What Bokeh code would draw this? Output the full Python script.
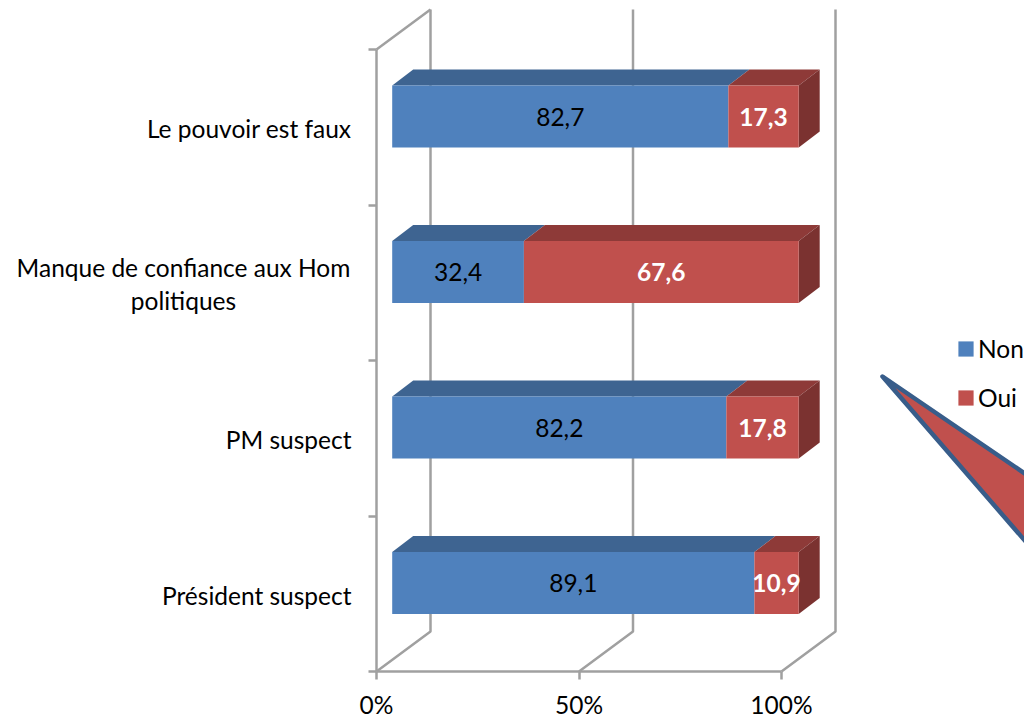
from bokeh.plotting import figure
from bokeh.embed import file_html
from bokeh.resources import INLINE
from bokeh.core.properties import value
from bokeh.models import FixedTicker, Legend, LegendItem

categories = ["Président suspect", "PM suspect", "Manque de confiance aux Hom\npolitiques", "Le pouvoir est faux"]
non = [89.1, 82.2, 32.4, 82.7]
oui = [10.9, 17.8, 67.6, 17.3]
non_labels = ["89,1", "82,2", "32,4", "82,7"]
oui_labels = ["10,9", "17,8", "67,6", "17,3"]
series_names = ["Non", "Oui"]
x_ticks = [0, 50, 100]
x_tick_labels = ["0%", "50%", "100%"]

W, H = 1024, 718
OFF = 0
FONT = "Lato"
FS = "24.5px"
GREY = "#A0A0A0"
LW = 2.5
BLUE, BLUE_TOP = "#4F81BD", "#3E6491"
RED, RED_TOP, RED_SIDE = "#C0504D", "#8E3A38", "#7B3230"

UX = 4.05
UY = 155.5
def dx(px): return px / UX
def dy(px): return px / UY
def X(px): return (px - 376) / UX
def Y(py): return (671 - py) / UY

p = figure(width=W, height=H, output_backend="svg", toolbar_location=None,
           x_range=(X(OFF), X(OFF + W)), y_range=(Y(OFF + H), Y(OFF)),
           min_border=0, min_border_left=0, min_border_right=0, min_border_top=0, min_border_bottom=0,
           outline_line_color=None, background_fill_color="white", border_fill_color="white")
p.grid.visible = False

for ax in (p.xaxis[0], p.yaxis[0]):
    ax.fixed_location = 0
    ax.axis_line_color = GREY
    ax.axis_line_width = LW
    ax.major_tick_line_color = GREY
    ax.major_tick_line_width = LW
    ax.major_tick_out = 8
    ax.major_tick_in = 0
    ax.minor_tick_line_color = None

xa = p.xaxis[0]
xa.ticker = FixedTicker(ticks=x_ticks)
xa.major_label_overrides = {t: s for t, s in zip(x_ticks, x_tick_labels)}
xa.bounds = (0, 100)
xa.major_label_text_font = FONT
xa.major_label_text_font_size = FS
xa.major_label_text_color = "black"
xa.major_label_standoff = 10

ya = p.yaxis[0]
ya.ticker = FixedTicker(ticks=list(range(len(categories) + 1)))
ya.major_label_overrides = {i: "" for i in range(len(categories) + 1)}
ya.bounds = (0, len(categories))

D_X, D_Y = dx(54), dy(40)
for t in x_ticks:
    p.line([t, t + D_X, t + D_X], [0, D_Y, Y(9)], line_color=GREY, line_width=LW)
p.line([0, D_X], [len(categories), Y(9)], line_color=GREY, line_width=LW)

BX0 = dx(15.7)
BXS = 406.5 / 405
BH = 62 / UY
BDX, BDY = dx(21), dy(16)
def bx(v): return BX0 + v * BXS
centers = [i + 0.5 + dy(10.75) for i in range(len(categories))]

def top(l, r, c):
    t = c + BH / 2
    return [bx(l), bx(r), bx(r) + BDX, bx(l) + BDX], [t, t, t + BDY, t + BDY]

txs, tys, sxs, sys_ = [], [], [], []
for c, n in zip(centers, non):
    a, b = top(0, n, c)
    txs.append(a); tys.append(b)
p.patches(txs, tys, fill_color=BLUE_TOP, line_color=None)
rxs, rys = [], []
for c, n, o in zip(centers, non, oui):
    a, b = top(n, n + o, c)
    rxs.append(a); rys.append(b)
    r = bx(n + o)
    sxs.append([r, r + BDX, r + BDX, r])
    sys_.append([c + BH / 2, c + BH / 2 + BDY, c - BH / 2 + BDY, c - BH / 2])
p.patches(rxs, rys, fill_color=RED_TOP, line_color=None)
p.patches(sxs, sys_, fill_color=RED_SIDE, line_color=None)

r_non = p.quad(left=[bx(0)] * 4, right=[bx(v) for v in non],
               bottom=[c - BH / 2 for c in centers], top=[c + BH / 2 for c in centers],
               fill_color=BLUE, line_color=None)
r_oui = p.quad(left=[bx(v) for v in non], right=[bx(a + b) for a, b in zip(non, oui)],
               bottom=[c - BH / 2 for c in centers], top=[c + BH / 2 for c in centers],
               fill_color=RED, line_color=None)

p.text([bx(v / 2) for v in non], centers, text=non_labels, text_align="center", text_baseline="middle",
       text_font=value(FONT), text_font_size=value(FS), text_color="black")
p.text([bx(a + b / 2) for a, b in zip(non, oui)], centers, text=oui_labels, text_align="center",
       text_baseline="middle", text_font=value(FONT), text_font_size=value(FS), text_font_style="bold",
       text_color="white")

single = [i for i, c in enumerate(categories) if "\n" not in c]
double = [i for i, c in enumerate(categories) if "\n" in c]
LBL_DOWN = dy(1.5)
p.text([X(351)] * len(single), [i + 0.5 - LBL_DOWN for i in single], text=[categories[i] for i in single],
       text_align="right", text_baseline="middle", text_font=value(FONT), text_font_size=value(FS), text_color="black")
p.text([X(183)] * len(double), [i + 0.5 - LBL_DOWN for i in double], text=[categories[i] for i in double],
       text_align="center", text_baseline="middle", text_font=value(FONT), text_font_size=value(FS),
       text_color="black", text_line_height=1.13)

p.patch([X(882), X(1124), X(1124)], [Y(376), Y(541), Y(655)],
        fill_color=RED, line_color="#385D8A", line_width=4.5, line_join="round")

legend = Legend(items=[LegendItem(label=series_names[0], renderers=[r_non]),
                       LegendItem(label=series_names[1], renderers=[r_oui])],
                location=(956, H - 412), orientation="vertical",
                background_fill_alpha=0, border_line_color=None,
                glyph_width=19, glyph_height=19, spacing=20, padding=0, margin=0,
                label_text_font=FONT, label_text_font_size=FS, label_text_color="black",
                label_standoff=3, label_height=22)
p.add_layout(legend, "center")

open("out.html", "w").write(file_html(p, INLINE))
